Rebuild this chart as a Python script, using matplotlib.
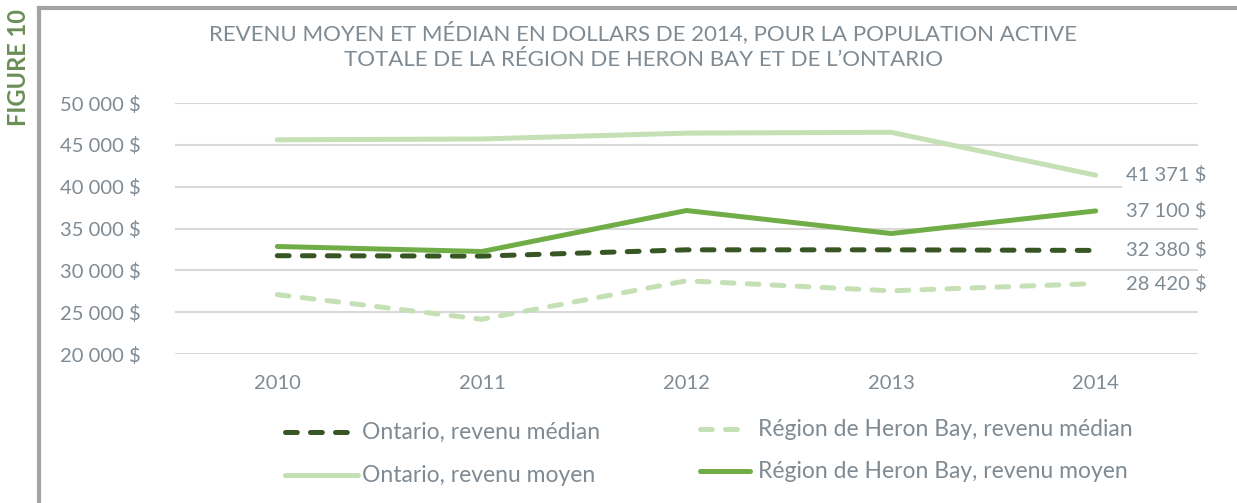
import matplotlib

matplotlib.use("Agg")
import matplotlib.pyplot as plt  # noqa: E402
from matplotlib.lines import Line2D  # noqa: E402
from matplotlib.ticker import FuncFormatter  # noqa: E402

YEARS = ["2010", "2011", "2012", "2013", "2014"]
ONT_MEDIAN = [31750, 31700, 32450, 32450, 32380]
HERON_MEDIAN = [27100, 24150, 28750, 27550, 28420]
ONT_MEAN = [45600, 45700, 46400, 46500, 41371]
HERON_MEAN = [32850, 32250, 37150, 34400, 37100]

DARK = "#375623"
LIGHT = "#c5e0b4"
MID = "#70ad47"
GRID = "#d9d9d9"
TXT = "#7f8a93"
FRAME = "#a3a3a3"
FIGGREEN = "#6b8e56"
FONT = "Lato"

plt.rcParams["font.family"] = [FONT, "DejaVu Sans"]
plt.rcParams["lines.scale_dashes"] = False


def fmt(v):
    return f"{int(round(v)):,}".replace(",", " ") + " $"


SERIES = [
    ("Ontario, revenu médian", ONT_MEDIAN, DARK, True),
    ("Région de Heron Bay, revenu médian", HERON_MEDIAN, LIGHT, True),
    ("Ontario, revenu moyen", ONT_MEAN, LIGHT, False),
    ("Région de Heron Bay, revenu moyen", HERON_MEAN, MID, False),
]

fig = plt.figure(figsize=(12.37, 5.03), dpi=100)
ax = fig.add_axes([175 / 1237, 1 - 354 / 503, 1023 / 1237, 251 / 503])

x = list(range(len(YEARS)))
handles = {}
for name, vals, col, dashed in SERIES:
    ln, = ax.plot(x, vals, color=col, lw=3.6, solid_capstyle="round",
                  dash_capstyle="round", zorder=3)
    if dashed:
        ln.set_dashes((8.5, 9.5))
    handles[name] = ln
    lab = ax.annotate(fmt(vals[-1]), (x[-1], vals[-1]), textcoords="offset points",
                      xytext=(22, 0), va="center", ha="left", color=TXT, fontsize=14.5,
                      zorder=4)
    if name == "Ontario, revenu moyen":
        lab.set_bbox(dict(facecolor="white", edgecolor="none", pad=3))

ax.set_xlim(-0.5, len(YEARS) - 0.5)
ax.set_ylim(20000, 50000)
ax.set_yticks(range(20000, 50001, 5000))
ax.yaxis.set_major_formatter(FuncFormatter(lambda v, p: fmt(v)))
ax.set_xticks(x)
ax.set_xticklabels(YEARS)
ax.grid(axis="y", color=GRID, lw=1.5, zorder=0)
ax.tick_params(length=0, colors=TXT, labelsize=14.5)
ax.tick_params(axis="y", pad=25)
ax.tick_params(axis="x", pad=15)
for s in ax.spines.values():
    s.set_visible(False)

fig.text(643 / 1237, 1 - 33 / 503, "REVENU MOYEN ET MÉDIAN EN DOLLARS DE 2014, POUR LA POPULATION ACTIVE",
         ha="center", va="center", color=TXT, fontsize=16)
fig.text(643 / 1237, 1 - 60 / 503, "TOTALE DE LA RÉGION DE HERON BAY ET DE L’ONTARIO",
         ha="center", va="center", color=TXT, fontsize=16)

fig.text(19 / 1237, 1 - 68 / 503, "FIGURE 10", rotation=90, ha="center", va="center",
         color=FIGGREEN, fontsize=17, fontweight="bold")

# frame
fig.add_artist(Line2D([39 / 1237, 1], [1 - 8 / 503, 1 - 8 / 503], color=FRAME, lw=3,
                      transform=fig.transFigure))
fig.add_artist(Line2D([39 / 1237, 39 / 1237], [0, 1 - 8 / 503], color=FRAME, lw=3,
                      transform=fig.transFigure))

# legend drawn by hand
LEG = [
    ("Ontario, revenu médian", 285, 350, 362, 432),
    ("Région de Heron Bay, revenu médian", 700, 745, 758, 429),
    ("Ontario, revenu moyen", 285, 358, 362, 475),
    ("Région de Heron Bay, revenu moyen", 700, 750, 758, 471),
]
for name, x0, x1, tx, yy in LEG:
    src = handles[name]
    ln = Line2D([x0 / 1237, x1 / 1237], [1 - yy / 503, 1 - yy / 503], color=src.get_color(),
                lw=3.6, solid_capstyle="round", dash_capstyle="round", transform=fig.transFigure)
    if src.get_linestyle() != "-":
        ln.set_dashes((8.5, 9.5))
    fig.add_artist(ln)
    fig.text(tx / 1237, 1 - yy / 503, name, ha="left", va="center", color=TXT, fontsize=16.5)

fig.savefig("out.png", dpi=100, facecolor="white")
